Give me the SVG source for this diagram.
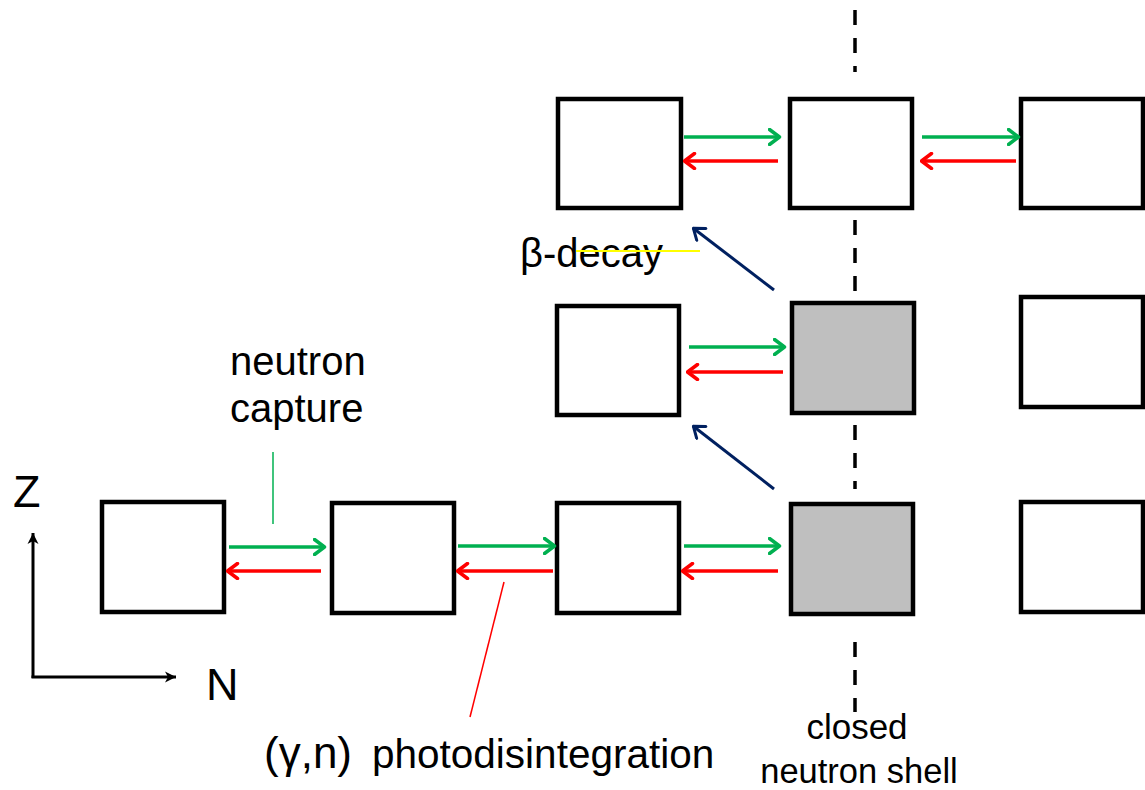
<svg xmlns="http://www.w3.org/2000/svg" width="1145" height="790" viewBox="0 0 1145 790">
  <style>
    .box { fill: #ffffff; stroke: #000000; stroke-width: 4.5; }
    .shell { fill: #bfbfbf; stroke: #000000; stroke-width: 4.5; }
    .cap { stroke: #00b050; stroke-width: 3.5; fill: none; marker-end: url(#hg); }
    .pd { stroke: #ff0000; stroke-width: 3.5; fill: none; marker-end: url(#hr); }
    .beta { stroke: #002060; stroke-width: 3; fill: none; marker-end: url(#hb); }
    .axis { stroke: #000000; stroke-width: 3; fill: none; }
    .dash { stroke: #000000; stroke-width: 3.5; stroke-dasharray: 15 13; fill: none; }
    .lbl { font-family: "Liberation Sans", Arial, sans-serif; fill: #000000; }
  </style>
  <defs>
    <marker id="hg" viewBox="0 0 14 18" refX="12.5" refY="9" markerWidth="14" markerHeight="18" markerUnits="userSpaceOnUse" orient="auto">
      <path d="M2,1.5 L12,9 L2,16.5" fill="none" stroke="#00b050" stroke-width="3.5" stroke-linecap="round" stroke-linejoin="round"/>
    </marker>
    <marker id="hr" viewBox="0 0 14 18" refX="12.5" refY="9" markerWidth="14" markerHeight="18" markerUnits="userSpaceOnUse" orient="auto">
      <path d="M2,1.5 L12,9 L2,16.5" fill="none" stroke="#ff0000" stroke-width="3.5" stroke-linecap="round" stroke-linejoin="round"/>
    </marker>
    <marker id="hb" viewBox="0 0 14 18" refX="12.5" refY="9" markerWidth="14" markerHeight="18" markerUnits="userSpaceOnUse" orient="auto">
      <path d="M2,1.5 L12,9 L2,16.5" fill="none" stroke="#002060" stroke-width="3" stroke-linecap="round" stroke-linejoin="round"/>
    </marker>
    <marker id="hk" viewBox="0 0 12 12" refX="11" refY="6" markerWidth="12" markerHeight="12" markerUnits="userSpaceOnUse" orient="auto">
      <path d="M0,0.5 L11,6 L0,11.5 L3,6 Z" fill="#000000"/>
    </marker>
  </defs>

  <g id="shell-line">
    <line class="dash" x1="855" y1="10" x2="855" y2="72"/>
    <line class="dash" x1="855" y1="220" x2="855" y2="292"/>
    <line class="dash" x1="855" y1="425" x2="855" y2="489"/>
    <line class="dash" x1="855" y1="642" x2="855" y2="712"/>
  </g>

  <g id="nodes">
    <g id="t1"><rect class="box" x="558" y="99" width="123" height="109"/></g>
    <g id="t2"><rect class="box" x="790" y="99" width="122" height="109"/></g>
    <g id="t3"><rect class="box" x="1021" y="99" width="122" height="109"/></g>

    <g id="m1"><rect class="box" x="557" y="306" width="122" height="109"/></g>
    <g id="m2"><rect class="shell" x="792" y="303" width="122" height="110"/></g>
    <g id="m3"><rect class="box" x="1021" y="297" width="122" height="110"/></g>

    <g id="b1"><rect class="box" x="102" y="502" width="122" height="110"/></g>
    <g id="b2"><rect class="box" x="332" y="503" width="122" height="110"/></g>
    <g id="b3"><rect class="box" x="557" y="503" width="122" height="110"/></g>
    <g id="b4"><rect class="shell" x="791" y="504" width="122" height="110"/></g>
    <g id="b5"><rect class="box" x="1021" y="502" width="122" height="110"/></g>
  </g>

  <g id="connectors">
    <!-- top row -->
    <line class="cap" x1="684" y1="137" x2="780" y2="137"/>
    <line class="pd" x1="778" y1="161" x2="684" y2="161"/>
    <line class="cap" x1="922" y1="137" x2="1019" y2="137"/>
    <line class="pd" x1="1016" y1="161" x2="921" y2="161"/>
    <!-- middle row -->
    <line class="cap" x1="689" y1="347" x2="785" y2="347"/>
    <line class="pd" x1="783" y1="372" x2="687" y2="372"/>
    <!-- bottom row -->
    <line class="cap" x1="229" y1="547" x2="325" y2="547"/>
    <line class="pd" x1="321" y1="571" x2="227" y2="571"/>
    <line class="cap" x1="458" y1="546" x2="555" y2="546"/>
    <line class="pd" x1="553" y1="571" x2="457" y2="571"/>
    <line class="cap" x1="684" y1="546" x2="780" y2="546"/>
    <line class="pd" x1="778" y1="571" x2="682" y2="571"/>
    <!-- beta decays -->
    <line class="beta" x1="774" y1="290" x2="693" y2="228"/>
    <line class="beta" x1="774" y1="489" x2="693" y2="426"/>
    <!-- axes -->
    <line class="axis" x1="33" y1="678" x2="33" y2="533" marker-end="url(#hk)"/>
    <line class="axis" x1="31.5" y1="677" x2="176" y2="677" marker-end="url(#hk)"/>
    <!-- label leaders -->
    <line x1="273" y1="452" x2="273" y2="524" stroke="#00b050" stroke-width="1.5"/>
    <line x1="504" y1="582" x2="470" y2="717" stroke="#ff0000" stroke-width="1.5"/>
  </g>

  <g id="labels">
    <text class="lbl" x="230" y="375" font-size="40">neutron</text>
    <text class="lbl" x="230" y="422" font-size="40">capture</text>
    <text class="lbl" x="520" y="267" font-size="40">β-decay</text>
    <text class="lbl" x="13" y="507" font-size="45">Z</text>
    <text class="lbl" x="206" y="700" font-size="45">N</text>
    <text class="lbl" x="264" y="768" font-size="44">(γ,n)</text>
    <text class="lbl" x="372" y="768" font-size="40.5">photodisintegration</text>
    <text class="lbl" x="857" y="739" font-size="35" text-anchor="middle">closed</text>
    <text class="lbl" x="859" y="783" font-size="34.5" text-anchor="middle">neutron shell</text>
  </g>

  <g id="beta-leader">
    <line x1="576" y1="251" x2="700" y2="251" stroke="#ffff00" stroke-width="2"/>
  </g>
</svg>
